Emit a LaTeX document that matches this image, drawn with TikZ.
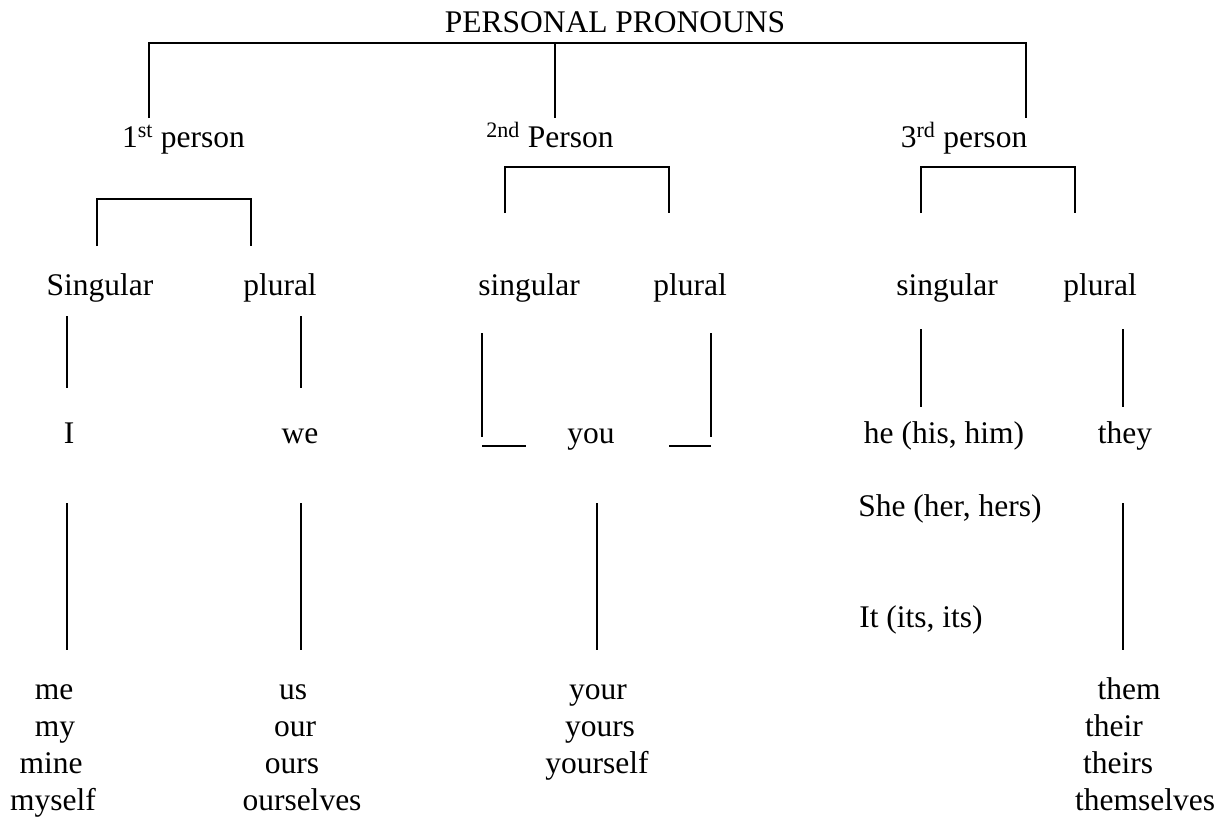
\documentclass[tikz,border=0pt]{standalone}
\usepackage{fontspec}
\setmainfont{Liberation Serif}
\begin{document}
\begin{tikzpicture}[x=1pt,y=-1pt,
  txt/.style={anchor=base,inner sep=0pt,font=\fontsize{31.5}{36}\selectfont},
  ln/.style={line width=1.5pt},
  lnb/.style={line width=2.2pt}]
\useasboundingbox[fill=white] (0,0) rectangle (1230,816);
% texts
\node[txt] (title) at (615,33) {PERSONAL PRONOUNS};
\node[txt] (p1) at (183.5,147) {1\textsuperscript{st} person};
\node[txt] (p2) at (550,147) {\textsuperscript{2nd} Person};
\node[txt] (p3) at (964,147) {3\textsuperscript{rd} person};
\node[txt] (s1) at (100,295) {Singular};
\node[txt] (pl1) at (280,295) {plural};
\node[txt] (s2) at (529,295) {singular};
\node[txt] (pl2) at (690,295) {plural};
\node[txt] (s3) at (947,295) {singular};
\node[txt] (pl3) at (1100,295) {plural};
\node[txt] (i) at (69,443) {I};
\node[txt] (we) at (300,443) {we};
\node[txt] (you) at (591,443) {you};
\node[txt] (he) at (944,443) {he (his, him)};
\node[txt] (they) at (1125,443) {they};
\node[txt] (she) at (950,516) {She (her, hers)};
\node[txt] (it) at (921,627) {It (its, its)};
\node[txt] (me) at (54,699) {me};
\node[txt] (my) at (55,736) {my};
\node[txt] (mine) at (51,773) {mine};
\node[txt] (myself) at (53,810) {myself};
\node[txt] (us) at (293,699) {us};
\node[txt] (our) at (295,736) {our};
\node[txt] (ours) at (292,773) {ours};
\node[txt] (ourselves) at (302,810) {ourselves};
\node[txt] (your) at (598,699) {your};
\node[txt] (yours) at (600,736) {yours};
\node[txt] (yourself) at (597,773) {yourself};
\node[txt] (them) at (1129,699) {them};
\node[txt] (their) at (1114,736) {their};
\node[txt] (theirs) at (1118,773) {theirs};
\node[txt] (themselves) at (1145,810) {themselves};
% top bracket
\draw[lnb] (149,118) -- (149,43) -- (1026,43) -- (1026,118);
\draw[lnb] (555,43) -- (555,118);
% person brackets
\draw[ln] (97,246) -- (97,199) -- (251,199) -- (251,246);
\draw[ln] (505,213) -- (505,167) -- (669,167) -- (669,213);
\draw[ln] (921,213) -- (921,167) -- (1075,167) -- (1075,213);
% number to pronoun
\draw[ln] (67,316) -- (67,388);
\draw[ln] (301,316) -- (301,388);
\draw[ln] (482,333) -- (482,437);
\draw[ln] (482,446) -- (526,446);
\draw[ln] (711,333) -- (711,437);
\draw[ln] (669,446) -- (711,446);
\draw[ln] (921,329) -- (921,407);
\draw[ln] (1123,329) -- (1123,407);
% pronoun to forms
\draw[ln] (67,503) -- (67,650);
\draw[ln] (301,503) -- (301,650);
\draw[ln] (597,503) -- (597,650);
\draw[ln] (1123,503) -- (1123,650);
\end{tikzpicture}
\end{document}
